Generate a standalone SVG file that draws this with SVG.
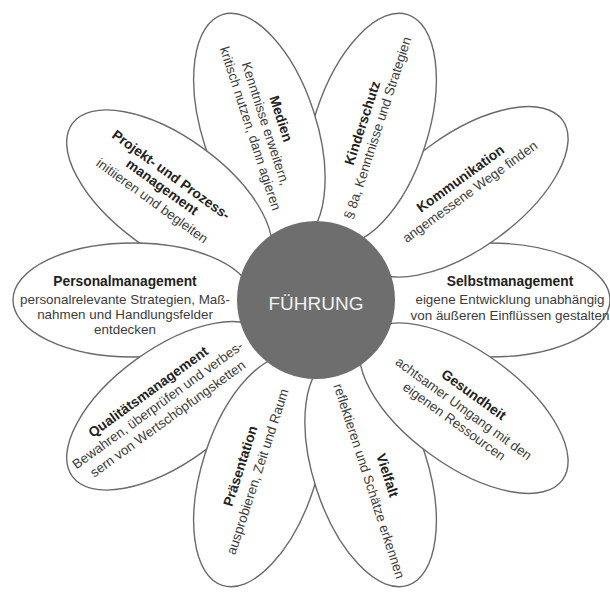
<svg xmlns="http://www.w3.org/2000/svg" width="610" height="592" viewBox="0 0 610 592">
<style>
.petal{fill:#fff;stroke:#6a6a6a;stroke-width:1.4}
text{font-family:"Liberation Sans",Arial,sans-serif;font-size:13.4px;text-anchor:middle}
.t{font-weight:bold;fill:#222;font-size:13.8px}
.b{fill:#3c3c3c}
.hub{fill:#6e6e6e}
.hubt{font-size:19px;fill:#f2f2f2}
</style>
<rect width="610" height="592" fill="#fff"/>
<g id="selbstmanagement" transform="translate(315 300)">
<ellipse class="petal" cx="175" cy="0" rx="120" ry="57"/>
<text class="t" x="195" y="-14">Selbstmanagement</text>
<text class="b" x="195" y="4">eigene Entwicklung unabhängig</text>
<text class="b" x="195" y="20">von äußeren Einflüssen gestalten</text>
</g>
<g id="kommunikation" transform="translate(315 300)">
<ellipse class="petal" cx="184" cy="0" rx="122" ry="57" transform="rotate(-36)"/>
<g transform="rotate(-36)">
<text class="t" x="189" y="-8">Kommunikation</text>
<text class="b" x="189" y="8">angemessene Wege finden</text>
</g>
</g>
<g id="kinderschutz" transform="translate(315 300)">
<ellipse class="petal" cx="180" cy="0" rx="120" ry="57" transform="rotate(-72)"/>
<g transform="rotate(-72)">
<text class="t" x="183" y="-5">Kinderschutz</text>
<text class="b" x="183" y="11">§ 8a, Kenntnisse und Strategien</text>
</g>
</g>
<g id="medien" transform="translate(315 300)">
<ellipse class="petal" cx="180" cy="0" rx="120" ry="57" transform="rotate(-108)"/>
<g transform="rotate(72)">
<text class="t" x="-183" y="-19">Medien</text>
<text class="b" x="-183" y="-3">Kenntnisse erweitern,</text>
<text class="b" x="-183" y="13">kritisch nutzen, dann agieren</text>
</g>
</g>
<g id="projekt" transform="translate(315 300)">
<ellipse class="petal" cx="180" cy="0" rx="120" ry="57" transform="rotate(-144)"/>
<g transform="rotate(36)">
<text class="t" x="-190" y="-12">Projekt- und Prozess-</text>
<text class="t" x="-190" y="3">management</text>
<text class="b" x="-190" y="20">initiieren und begleiten</text>
</g>
</g>
<g id="personalmanagement" transform="translate(315 300)">
<ellipse class="petal" cx="-182" cy="0" rx="120" ry="57"/>
<text class="t" x="-190" y="-14">Personalmanagement</text>
<text class="b" x="-190" y="4">personalrelevante Strategien, Maß-</text>
<text class="b" x="-190" y="19">nahmen und Handlungsfelder</text>
<text class="b" x="-190" y="34">entdecken</text>
</g>
<g id="qualitaetsmanagement" transform="translate(315 300)">
<ellipse class="petal" cx="180" cy="0" rx="120" ry="57" transform="rotate(144)"/>
<g transform="rotate(-36)">
<text class="t" x="-189" y="-19">Qualitätsmanagement</text>
<text class="b" x="-189" y="-3">Bewahren, überprüfen und verbes-</text>
<text class="b" x="-189" y="14">sern von Wertschöpfungsketten</text>
</g>
</g>
<g id="praesentation" transform="translate(315 300)">
<ellipse class="petal" cx="180" cy="0" rx="120" ry="57" transform="rotate(108)"/>
<g transform="rotate(-72)">
<text class="t" x="-181" y="-15">Präsentation</text>
<text class="b" x="-181" y="3">ausprobieren, Zeit und Raum</text>
</g>
</g>
<g id="vielfalt" transform="translate(315 300)">
<ellipse class="petal" cx="180" cy="0" rx="120" ry="57" transform="rotate(72)"/>
<g transform="rotate(72)">
<text class="t" x="189" y="-10">Vielfalt</text>
<text class="b" x="189" y="9">reflektieren und Schätze erkennen</text>
</g>
</g>
<g id="gesundheit" transform="translate(315 300)">
<ellipse class="petal" cx="184" cy="0" rx="122" ry="57" transform="rotate(36)"/>
<g transform="rotate(36)">
<text class="t" x="184" y="-12">Gesundheit</text>
<text class="b" x="184" y="5">achtsamer Umgang mit den</text>
<text class="b" x="184" y="21">eigenen Ressourcen</text>
</g>
</g>
<g id="fuehrung">
<circle class="hub" cx="316" cy="300" r="79"/>
<text class="hubt" x="316" y="310">FÜHRUNG</text>
</g>
</svg>
